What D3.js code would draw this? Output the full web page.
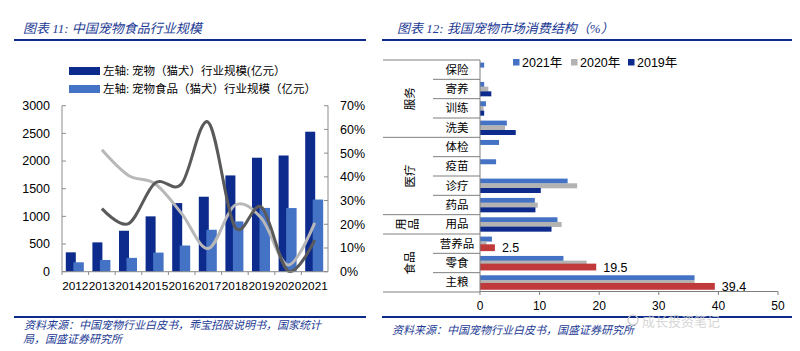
<!DOCTYPE html>
<html>
<head>
<meta charset="utf-8">
<script src="https://cdn.jsdelivr.net/npm/d3@7"></script>
<style>
body { margin: 0; background: #fff; }
svg text { font-family: "Liberation Sans", Arial, "Noto Sans CJK SC", sans-serif; }
.cjk { font-family: "Liberation Serif", "Noto Sans CJK SC", serif; }
</style>
</head>
<body>
<svg id="svg" width="800" height="351"></svg>
<script>
// ---- left chart data ----
var years = ["2012", "2013", "2014", "2015", "2016", "2017", "2018", "2019", "2020", "2021"];
var petScale = [350, 530, 740, 1000, 1240, 1355, 1740, 2060, 2100, 2530];
var foodScale = [170, 212, 250, 345, 473, 758, 909, 1153, 1150, 1304];
var lineYears = ["2013", "2014", "2015", "2016", "2017", "2018", "2019", "2020", "2021"];
var petGrowth = [26.6, 20.3, 37.4, 37.1, 63, 18.9, 27.2, 0.3, 13.3];
var foodGrowth = [51.4, 40.6, 37.1, 24.5, 9.8, 28, 22.5, 2.8, 20.6];
var leftTicks = [0, 500, 1000, 1500, 2000, 2500, 3000];
var rightTicks = [0, 10, 20, 30, 40, 50, 60, 70];

// ---- right chart data ----
var cats = ["保险", "寄养", "训练", "洗美", "体检", "疫苗", "诊疗", "药品", "用品", "营养品", "零食", "主粮"];
var groups = ["服务", "医疗", "用品", "食品"];
var groupSizes = [4, 4, 1, 3];
var v2021 = [0.7, 0.7, 1.0, 4.5, 3.2, 2.7, 14.7, 9.2, 13.0, 2.0, 14.0, 36.0];
var v2020 = [0, 1.4, 0.6, 4.2, 0, 0, 16.3, 9.7, 13.7, 1.1, 17.9, 36.0];
var v2019 = [0, 1.9, 0.7, 6.0, 0, 0, 10.2, 9.3, 12.0, 2.5, 19.5, 39.4];
var shareTicks = [0, 10, 20, 30, 40, 50];

var navy = "#0d2b8c", blue = "#4472c4", gray = "#b3b3b3", red = "#c0393b";
var titleColor = "#1c3a94";
var svg = d3.select("#svg");

// ---- titles and rules ----
svg.append("text").attr("class", "cjk")
	.attr("x", 23).attr("y", 33)
	.attr("font-size", 13).attr("font-style", "italic").attr("fill", titleColor)
	.text("图表 11:  中国宠物食品行业规模");
svg.append("text").attr("class", "cjk")
	.attr("x", 397).attr("y", 33)
	.attr("font-size", 13).attr("font-style", "italic").attr("fill", titleColor)
	.text("图表 12:  我国宠物市场消费结构（%）");

[[14, 366], [382, 792]].forEach(function(r) {
	svg.append("line").attr("x1", r[0]).attr("x2", r[1]).attr("y1", 40).attr("y2", 40)
		.attr("stroke", "#0e2a8a").attr("stroke-width", 2);
	svg.append("line").attr("x1", r[0]).attr("x2", r[1]).attr("y1", 317).attr("y2", 317)
		.attr("stroke", "#0e2a8a").attr("stroke-width", 2);
});

svg.append("text").attr("class", "cjk")
	.attr("x", 24).attr("y", 329)
	.attr("font-size", 11).attr("font-style", "italic").attr("fill", titleColor)
	.text("资料来源：中国宠物行业白皮书，乖宝招股说明书，国家统计");
svg.append("text").attr("class", "cjk")
	.attr("x", 23).attr("y", 343)
	.attr("font-size", 11).attr("font-style", "italic").attr("fill", titleColor)
	.text("局，国盛证券研究所");
svg.append("text").attr("class", "cjk")
	.attr("x", 392).attr("y", 334)
	.attr("font-size", 11).attr("font-style", "italic").attr("fill", titleColor)
	.text("资料来源：中国宠物行业白皮书，国盛证券研究所");

// ================= left chart =================
var x0 = d3.scaleBand().domain(years).range([62, 328]);
var yL = d3.scaleLinear().domain([0, 3000]).range([271.7, 105.7]);
var yR = d3.scaleLinear().domain([0, 70]).range([271.7, 105.7]);

var left = svg.append("g");

// legend
var legItems = [
	{color: navy, label: "左轴:  宠物（猫犬）行业规模(亿元）"},
	{color: blue, label: "左轴:  宠物食品（猫犬）行业规模（亿元）"}
];
legItems.forEach(function(d, i) {
	left.append("rect").attr("x", 69).attr("y", 67 + i * 18).attr("width", 31).attr("height", 8)
		.attr("fill", d.color);
	left.append("text").attr("class", "cjk")
		.attr("x", 103).attr("y", 71 + i * 18).attr("dy", "0.35em")
		.attr("font-size", 11.5).attr("fill", "#000")
		.text(d.label);
});

// bars
left.append("g").selectAll("rect")
	.data(years)
	.enter().append("rect")
	.attr("x", function(d) { return x0(d) + x0.bandwidth() / 2 - 9.5; })
	.attr("y", function(d, i) { return yL(petScale[i]); })
	.attr("width", 10)
	.attr("height", function(d, i) { return yL(0) - yL(petScale[i]); })
	.attr("fill", navy);

left.append("g").selectAll("rect")
	.data(years)
	.enter().append("rect")
	.attr("x", function(d) { return x0(d) + x0.bandwidth() / 2 - 2; })
	.attr("y", function(d, i) { return yL(foodScale[i]); })
	.attr("width", 10.5)
	.attr("height", function(d, i) { return yL(0) - yL(foodScale[i]); })
	.attr("fill", blue);

// growth lines
var line = d3.line()
	.x(function(d) { return x0(d[0]) + x0.bandwidth() / 2; })
	.y(function(d) { return yR(d[1]); })
	.curve(d3.curveCatmullRom.alpha(0));

left.append("path")
	.datum(lineYears.map(function(y, i) { return [y, foodGrowth[i]]; }))
	.attr("d", line).attr("fill", "none")
	.attr("stroke", "#b8b8b8").attr("stroke-width", 3);
left.append("path")
	.datum(lineYears.map(function(y, i) { return [y, petGrowth[i]]; }))
	.attr("d", line).attr("fill", "none")
	.attr("stroke", "#5a5a5a").attr("stroke-width", 3);

// axes
var axisColor = "#8c8c8c";
left.append("line").attr("x1", 62).attr("x2", 62).attr("y1", 105.7).attr("y2", 271.7).attr("stroke", axisColor);
left.append("line").attr("x1", 328).attr("x2", 328).attr("y1", 105.7).attr("y2", 271.7).attr("stroke", axisColor);
left.append("line").attr("x1", 62).attr("x2", 328).attr("y1", 271.7).attr("y2", 271.7).attr("stroke", axisColor);

leftTicks.forEach(function(t) {
	left.append("line").attr("x1", 62).attr("x2", 66).attr("y1", yL(t)).attr("y2", yL(t)).attr("stroke", axisColor);
	left.append("text").attr("x", 50).attr("y", yL(t)).attr("dy", "0.35em")
		.attr("text-anchor", "end").attr("font-size", 12.5).attr("fill", "#000")
		.text(t);
});
rightTicks.forEach(function(t) {
	left.append("line").attr("x1", 324).attr("x2", 328).attr("y1", yR(t)).attr("y2", yR(t)).attr("stroke", axisColor);
	left.append("text").attr("x", 340).attr("y", yR(t)).attr("dy", "0.35em")
		.attr("text-anchor", "start").attr("font-size", 12.5).attr("fill", "#000")
		.text(t + "%");
});
years.forEach(function(y) {
	left.append("line").attr("x1", x0(y)).attr("x2", x0(y)).attr("y1", 271.7).attr("y2", 275).attr("stroke", axisColor);
	left.append("text").attr("x", x0(y) + x0.bandwidth() / 2).attr("y", 290)
		.attr("text-anchor", "middle").attr("font-size", 11.8).attr("fill", "#000")
		.text(y);
});

// ================= right chart =================
var xS = d3.scaleLinear().domain([0, 50]).range([480, 778]);
var yC = d3.scaleBand().domain(cats).range([60, 292]);
var right = svg.append("g");
var bh = 5;

var groupOf = [];
groups.forEach(function(g, gi) { for (var k = 0; k < groupSizes[gi]; k++) groupOf.push(g); });

right.append("g").selectAll("rect").data(cats).enter().append("rect")
	.attr("x", xS(0)).attr("y", function(d) { return yC(d) + 2.6; })
	.attr("width", function(d, i) { return xS(v2021[i]) - xS(0); })
	.attr("height", bh).attr("fill", blue);
right.append("g").selectAll("rect").data(cats).enter().append("rect")
	.attr("x", xS(0)).attr("y", function(d) { return yC(d) + 7.3; })
	.attr("width", function(d, i) { return xS(v2020[i]) - xS(0); })
	.attr("height", bh).attr("fill", gray);
right.append("g").selectAll("rect").data(cats).enter().append("rect")
	.attr("x", xS(0))
	.attr("y", function(d, i) { return yC(d) + (groupOf[i] == "食品" ? 10.3 : 12); })
	.attr("width", function(d, i) { return xS(v2019[i]) - xS(0); })
	.attr("height", function(d, i) { return groupOf[i] == "食品" ? 6.8 : bh; })
	.attr("fill", function(d, i) { return groupOf[i] == "食品" ? red : navy; });

// data labels on red bars
cats.forEach(function(c, i) {
	if (groupOf[i] != "食品") return;
	right.append("text")
		.attr("x", xS(v2019[i]) + 7).attr("y", yC(c) + 14).attr("dy", "0.35em")
		.attr("font-size", 12.5).attr("fill", "#000")
		.text(v2019[i].toFixed(1));
});

// category axis
var lineColor = "#7f7f7f";
right.append("line").attr("x1", xS(0)).attr("x2", xS(0)).attr("y1", 60).attr("y2", 292).attr("stroke", lineColor);
right.append("line").attr("x1", xS(0)).attr("x2", xS(50)).attr("y1", 291.5).attr("y2", 291.5).attr("stroke", lineColor);

var row = 0;
groups.forEach(function(g, gi) {
	var top = yC(cats[row]);
	right.append("line").attr("x1", 383).attr("x2", xS(0)).attr("y1", top).attr("y2", top).attr("stroke", lineColor);
	for (var k = 1; k < groupSizes[gi]; k++) {
		var yy = yC(cats[row + k]);
		right.append("line").attr("x1", 433).attr("x2", xS(0)).attr("y1", yy).attr("y2", yy).attr("stroke", lineColor);
	}
	var mid = top + groupSizes[gi] * yC.bandwidth() / 2;
	if (groupSizes[gi] > 1) {
		right.append("text").attr("class", "cjk")
			.attr("transform", "translate(410," + mid + ") rotate(-90)")
			.attr("text-anchor", "middle").attr("dy", "0.35em")
			.attr("font-size", 11.5).attr("fill", "#000")
			.text(g);
	} else {
		// too short for a rotated label: characters wrap side by side
		g.split("").forEach(function(ch, j) {
			right.append("text").attr("class", "cjk")
				.attr("transform", "translate(" + (401 + j * 12.5) + "," + mid + ") rotate(-90)")
				.attr("text-anchor", "middle").attr("dy", "0.35em")
				.attr("font-size", 11.5).attr("fill", "#000")
				.text(ch);
		});
	}
	row += groupSizes[gi];
});
right.append("line").attr("x1", 383).attr("x2", xS(0)).attr("y1", 292).attr("y2", 292).attr("stroke", lineColor);

cats.forEach(function(c) {
	right.append("text").attr("class", "cjk")
		.attr("x", 457).attr("y", yC(c) + yC.bandwidth() / 2).attr("dy", "0.35em")
		.attr("text-anchor", "middle").attr("font-size", 11.5).attr("fill", "#000")
		.text(c);
});

shareTicks.forEach(function(t) {
	right.append("line").attr("x1", xS(t)).attr("x2", xS(t)).attr("y1", 291.5).attr("y2", 295).attr("stroke", lineColor);
	right.append("text").attr("x", xS(t)).attr("y", 306).attr("dy", "0.35em")
		.attr("text-anchor", "middle").attr("font-size", 12).attr("fill", "#000")
		.text(t);
});

// legend
var legR = [{c: blue, t: "2021年", x: 513}, {c: gray, t: "2020年", x: 571}, {c: navy, t: "2019年", x: 628}];
legR.forEach(function(d) {
	right.append("rect").attr("x", d.x).attr("y", 59).attr("width", 6.5).attr("height", 6.5).attr("fill", d.c);
	right.append("text").attr("x", d.x + 9).attr("y", 62.3).attr("dy", "0.35em")
		.attr("font-size", 12.5).attr("fill", "#000")
		.text(d.t);
});

// watermark, kept just below the tick labels
svg.append("circle").attr("cx", 633).attr("cy", 320).attr("r", 5)
	.attr("fill", "none").attr("stroke", "#c8c8c8").attr("stroke-width", 1.2);
svg.append("text").attr("x", 642).attr("y", 321).attr("dy", "0.35em")
	.attr("font-size", 13).attr("fill", "#d0d0d0").attr("opacity", 0.85)
	.attr("font-family", "Noto Sans CJK SC")
	.text("成长投资笔记");
</script>
</body>
</html>
